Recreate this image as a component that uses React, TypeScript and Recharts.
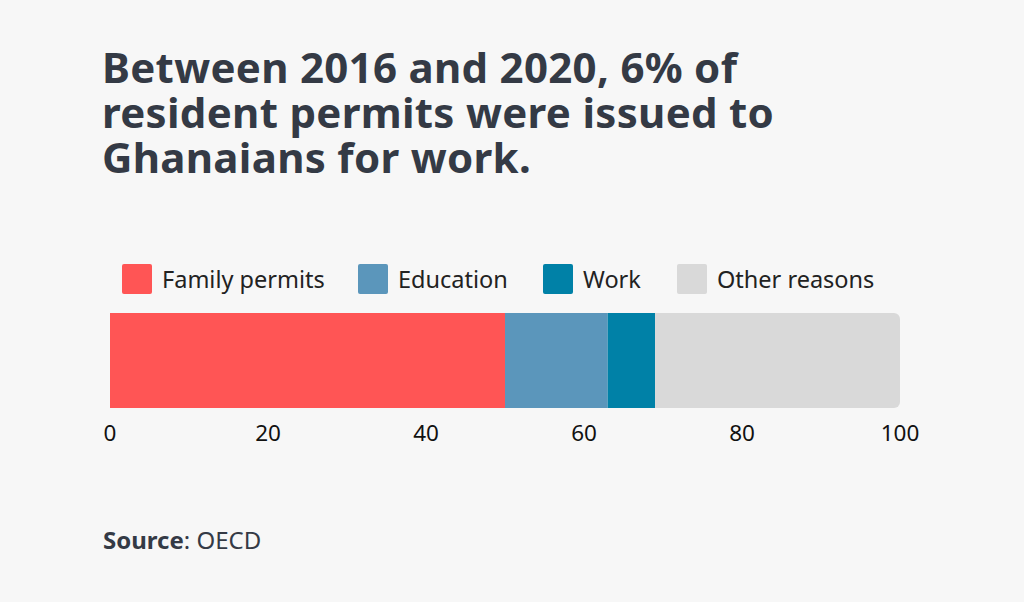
import { Bar, BarChart, XAxis, YAxis } from "recharts";

const categories = ["Ghana"];
const seriesNames = ["Family permits", "Education", "Work", "Other reasons"];
const seriesKeys = ["family", "education", "work", "other"];
const seriesColors = ["#ff5555", "#5b96bb", "#0081a7", "#d9d9d9"];
const familyValues = [50];
const educationValues = [13];
const workValues = [6];
const otherValues = [31];
const xTicks = [0, 20, 40, 60, 80, 100];
const titleLines = [
  "Between 2016 and 2020, 6% of",
  "resident permits were issued to",
  "Ghanaians for work."
];

const rows = categories.map((name, i) => ({
  name,
  family: familyValues[i],
  education: educationValues[i],
  work: workValues[i],
  other: otherValues[i]
}));

// legend swatch left edges
const legendX = [122, 358, 543, 677];

const font = "'Noto Sans', 'Open Sans', sans-serif";
const textColor = "#343a45";

export default function App() {
  return (
    <div
      style={{
        position: "absolute",
        left: 0,
        top: 0,
        width: 1024,
        height: 602,
        background: "#f7f7f7",
        fontFamily: font,
        color: textColor,
        overflow: "hidden"
      }}
    >
      {titleLines.map((line, i) => (
        <div
          key={line}
          style={{
            position: "absolute",
            left: 102,
            top: 44 + i * 45,
            height: 45,
            fontSize: 42,
            fontWeight: 700,
            letterSpacing: 0.3,
            lineHeight: "45px",
            whiteSpace: "nowrap"
          }}
        >
          {line}
        </div>
      ))}

      {seriesNames.map((name, i) => (
        <div
          key={name}
          style={{ position: "absolute", left: legendX[i], top: 264, height: 30, display: "flex", alignItems: "center" }}
        >
          <div style={{ width: 30, height: 30, background: seriesColors[i], borderRadius: 2 }} />
          <span style={{ marginLeft: 10, fontSize: 23.5, lineHeight: "30px", color: "#222" }}>{name}</span>
        </div>
      ))}

      <div style={{ position: "absolute", left: 0, top: 0 }}>
        <BarChart
          width={1024}
          height={602}
          data={rows}
          layout="vertical"
          barCategoryGap={0}
          margin={{ top: 313, right: 124, bottom: 164, left: 110 }}
        >
          <XAxis
            type="number"
            domain={[0, 100]}
            ticks={xTicks}
            axisLine={false}
            tickLine={false}
            tickMargin={11}
            height={30}
            tick={{ fontSize: 22.5, fill: "#111", fontFamily: font }}
            interval={0}
          />
          <YAxis type="category" dataKey="name" hide />
          {seriesKeys.map((key, i) => (
            <Bar
              key={key}
              dataKey={key}
              name={seriesNames[i]}
              stackId="permits"
              fill={seriesColors[i]}
              radius={i === seriesKeys.length - 1 ? [0, 6, 6, 0] : 0}
              isAnimationActive={false}
            />
          ))}
        </BarChart>
      </div>

      <div style={{ position: "absolute", left: 103, top: 525, fontSize: 24, lineHeight: "30px" }}>
        <b>Source</b>: OECD
      </div>
    </div>
  );
}
